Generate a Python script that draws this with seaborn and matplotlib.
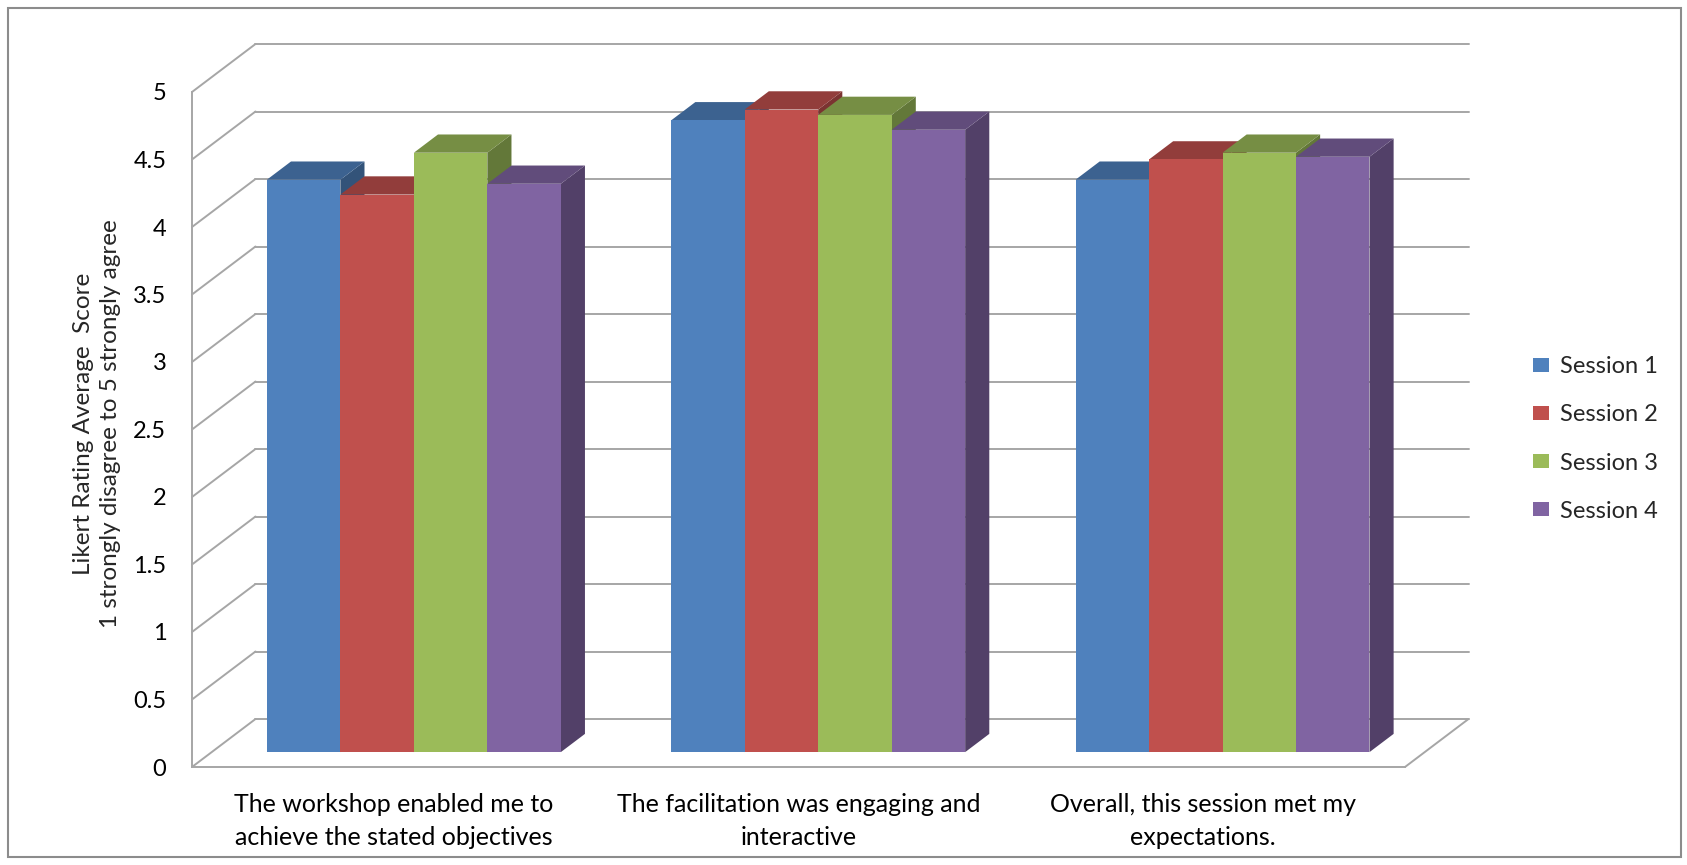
import matplotlib
matplotlib.use("Agg")
import matplotlib.pyplot as plt
from matplotlib.colors import to_rgb
from matplotlib.lines import Line2D
from matplotlib.patches import Polygon, Patch, Rectangle
from matplotlib.transforms import Affine2D
import pandas as pd
import seaborn as sns

# ---- data -------------------------------------------------------------
questions = [
    "The workshop enabled me to\nachieve the stated objectives",
    "The facilitation was engaging and\ninteractive",
    "Overall, this session met my\nexpectations.",
]
sessions = ["Session 1", "Session 2", "Session 3", "Session 4"]
session_1 = [4.24, 4.68, 4.24]
session_2 = [4.13, 4.76, 4.39]
session_3 = [4.44, 4.72, 4.44]
session_4 = [4.21, 4.61, 4.41]
y_ticks = [0, 0.5, 1, 1.5, 2, 2.5, 3, 3.5, 4, 4.5, 5]
y_tick_labels = ["0", "0.5", "1", "1.5", "2", "2.5", "3", "3.5", "4", "4.5", "5"]
y_label = "Likert Rating Average  Score\n1 strongly disagree to 5 strongly agree"
colors = ["#4F81BD", "#C0504D", "#9BBB59", "#8064A2"]

scores = [session_1, session_2, session_3, session_4]
df = pd.DataFrame({
    "question": [q for s in scores for q in questions],
    "session": [name for name, s in zip(sessions, scores) for _ in s],
    "score": [v for s in scores for v in s],
})

# ---- style ------------------------------------------------------------
sns.set_style("white")
plt.rcParams["font.family"] = ["Lato", "DejaVu Sans"]
FS = 17
GRID = "#A6A6A6"
GRID_LW = 1.4

W, H = 1687, 865
fig = plt.figure(figsize=(W / 100, H / 100), dpi=100)

# front face of the chart box, in pixels
left_px, right_px, bottom_px, top_px = 192, 1405, 767, 92
ax = fig.add_axes([left_px / W, 1 - bottom_px / H,
                   (right_px - left_px) / W, (bottom_px - top_px) / H])
ax.set_facecolor("none")

sns.barplot(data=df, x="question", y="score", hue="session",
            order=questions, hue_order=sessions, palette=colors,
            width=0.727, saturation=1, linewidth=0, legend=False, ax=ax)
ax.set_xlim(-0.5, 2.5)
ax.set_ylim(0, 5)

# oblique depth vector of the full box, in data units
DX = 63.5 / ((right_px - left_px) / 3)
DY = 48.0 / ((bottom_px - top_px) / 5)
FRONT = 0.31   # depth where the bar fronts sit
DEPTH = 0.38   # thickness of each bar


def shade(color, f):
    return tuple(c * f for c in to_rgb(color))


# ---- back wall, side wall and floor lines -----------------------------
for v in y_ticks:
    ax.add_line(Line2D([-0.5 + DX, 2.5 + DX], [v + DY, v + DY], color=GRID,
                       lw=GRID_LW, clip_on=False, zorder=1))
    ax.add_line(Line2D([-0.5, -0.5 + DX], [v, v + DY], color=GRID,
                       lw=GRID_LW, clip_on=False, zorder=1))
ax.add_line(Line2D([2.5, 2.5 + DX], [0, DY], color=GRID, lw=GRID_LW,
                   clip_on=False, zorder=1))

# ---- 3-D bars: shift the seaborn fronts back and add top/side faces --
shift = Affine2D().translate(FRONT * DX, FRONT * DY) + ax.transData
for j, cont in enumerate(ax.containers):
    base = 3 + j
    for rect in cont:
        color = rect.get_facecolor()
        x0 = rect.get_x()
        w = rect.get_width()
        h = rect.get_height()
        xr = x0 + w
        rect.set_transform(shift)
        rect.set_zorder(base + 0.2)
        rect.set_clip_on(False)
        side = Polygon([(xr, 0), (xr, h), (xr + DEPTH * DX, h + DEPTH * DY),
                        (xr + DEPTH * DX, DEPTH * DY)], closed=True,
                       facecolor=shade(color, 0.64), edgecolor="none",
                       transform=shift, zorder=base, clip_on=False)
        top = Polygon([(x0, h), (xr, h), (xr + DEPTH * DX, h + DEPTH * DY),
                       (x0 + DEPTH * DX, h + DEPTH * DY)], closed=True,
                      facecolor=shade(color, 0.76), edgecolor="none",
                      transform=shift, zorder=base + 0.1, clip_on=False)
        ax.add_patch(side)
        ax.add_patch(top)

# ---- axes, ticks and labels -------------------------------------------
for s in ("top", "right"):
    ax.spines[s].set_visible(False)
for s in ("left", "bottom"):
    ax.spines[s].set_color(GRID)
    ax.spines[s].set_linewidth(GRID_LW)
    ax.spines[s].set_zorder(1.5)

ax.set_yticks(y_ticks, y_tick_labels)
ax.tick_params(axis="y", length=5, width=GRID_LW, color=GRID, pad=13.5,
               labelsize=FS, labelcolor="black")
ax.set_xticks([0, 1, 2], questions)
ax.set_xticks([-0.5, 0.5, 1.5, 2.5], minor=True)
ax.tick_params(axis="x", which="major", length=0, pad=19, labelsize=18,
               labelcolor="black")
ax.tick_params(axis="x", which="minor", length=5, width=GRID_LW, color=GRID)
for t in ax.get_xticklabels():
    t.set_linespacing(1.5)

ax.set_xlabel("")
ax.set_ylabel(y_label, fontsize=17.5, linespacing=1.3, va="center",
              ha="center", multialignment="center")
ax.yaxis.set_label_coords((97 - left_px) / (right_px - left_px),
                          (bottom_px - 424) / (bottom_px - top_px))

# ---- legend ------------------------------------------------------------
handles = [Patch(facecolor=c, edgecolor="none") for c in colors]
fig.legend(handles, sessions, loc="center left",
           bbox_to_anchor=(1533 / W, 1 - 439 / H), frameon=False,
           fontsize=FS, handlelength=0.68, handleheight=0.55,
           handletextpad=0.45, labelspacing=1.15, borderaxespad=0,
           borderpad=0)

# ---- outer chart border ------------------------------------------------
fig.add_artist(Rectangle((8 / W, 8 / H), (1681 - 8) / W, (857 - 8) / H,
                         transform=fig.transFigure, fill=False,
                         edgecolor="#8C8C8C", lw=1.5))

fig.savefig("out.png", dpi=100)
